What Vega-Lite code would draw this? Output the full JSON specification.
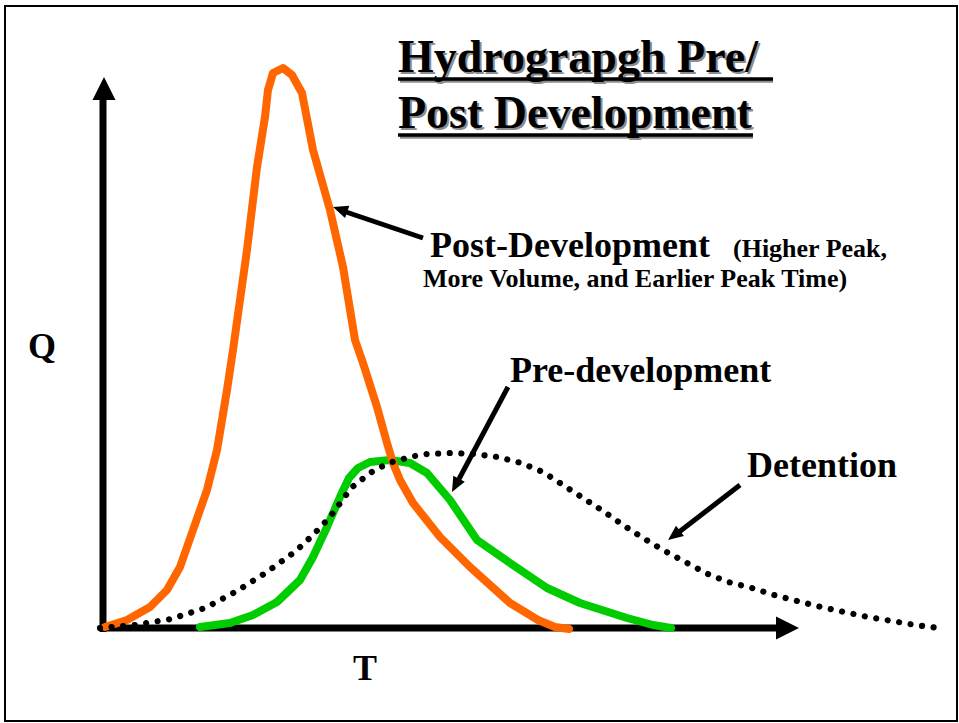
{
  "$schema": "https://vega.github.io/schema/vega-lite/v6.json",
  "width": 959,
  "height": 723,
  "autosize": {"type": "fit", "contains": "padding"},
  "padding": {"left": 5, "top": 6, "right": 2, "bottom": 2},
  "background": "white",
  "config": {"view": {"stroke": "black", "strokeWidth": 2}},
  "datasets": {
    "post": [
      {"T": 0.2, "Q": 0.1}, {"T": 2.4, "Q": 0.8}, {"T": 4.7, "Q": 2.1}, {"T": 6.4, "Q": 3.8},
      {"T": 7.7, "Q": 6.1}, {"T": 9.0, "Q": 9.8}, {"T": 10.4, "Q": 13.8}, {"T": 11.4, "Q": 17.8},
      {"T": 12.4, "Q": 23.8}, {"T": 13.0, "Q": 27.8}, {"T": 14.4, "Q": 37.8}, {"T": 15.4, "Q": 46.1},
      {"T": 16.2, "Q": 51.1}, {"T": 16.5, "Q": 53.8}, {"T": 17.0, "Q": 55.5}, {"T": 18.0, "Q": 56.0},
      {"T": 18.9, "Q": 55.3}, {"T": 19.9, "Q": 53.5}, {"T": 21.0, "Q": 47.8}, {"T": 22.7, "Q": 41.8},
      {"T": 24.0, "Q": 36.1}, {"T": 25.2, "Q": 28.8}, {"T": 26.0, "Q": 26.5}, {"T": 27.4, "Q": 22.1},
      {"T": 28.4, "Q": 18.5}, {"T": 29.0, "Q": 16.5}, {"T": 29.7, "Q": 14.8}, {"T": 31.0, "Q": 12.5},
      {"T": 33.7, "Q": 9.1}, {"T": 36.7, "Q": 6.1}, {"T": 40.7, "Q": 2.5}, {"T": 43.5, "Q": 0.8},
      {"T": 45.2, "Q": 0.1}, {"T": 46.6, "Q": -0.1}
    ],
    "pre": [
      {"T": 9.7, "Q": 0.1}, {"T": 12.7, "Q": 0.5}, {"T": 15.0, "Q": 1.3}, {"T": 17.4, "Q": 2.6},
      {"T": 19.7, "Q": 4.8}, {"T": 21.0, "Q": 7.1}, {"T": 22.4, "Q": 10.1}, {"T": 23.7, "Q": 13.1},
      {"T": 24.6, "Q": 15.0}, {"T": 25.5, "Q": 16.0}, {"T": 26.7, "Q": 16.6}, {"T": 28.7, "Q": 16.8},
      {"T": 30.7, "Q": 16.5}, {"T": 32.4, "Q": 15.5}, {"T": 34.7, "Q": 12.8}, {"T": 37.4, "Q": 8.8},
      {"T": 40.7, "Q": 6.5}, {"T": 44.4, "Q": 4.0}, {"T": 47.7, "Q": 2.5}, {"T": 52.4, "Q": 1.0},
      {"T": 55.0, "Q": 0.3}, {"T": 56.8, "Q": 0.0}
    ],
    "detention": [
      {"T": -0.3, "Q": 0.0}, {"T": 3.2, "Q": 0.3}, {"T": 6.8, "Q": 0.9}, {"T": 10.2, "Q": 2.0},
      {"T": 13.4, "Q": 3.7}, {"T": 16.4, "Q": 5.6}, {"T": 19.3, "Q": 7.7}, {"T": 21.1, "Q": 9.4},
      {"T": 22.7, "Q": 11.1}, {"T": 24.1, "Q": 13.0}, {"T": 24.8, "Q": 14.0}, {"T": 25.7, "Q": 14.7},
      {"T": 26.7, "Q": 15.5}, {"T": 27.8, "Q": 16.1}, {"T": 28.9, "Q": 16.6}, {"T": 30.0, "Q": 16.9},
      {"T": 31.2, "Q": 17.2}, {"T": 32.4, "Q": 17.4}, {"T": 34.7, "Q": 17.5}, {"T": 37.1, "Q": 17.4},
      {"T": 39.5, "Q": 17.1}, {"T": 41.8, "Q": 16.5}, {"T": 44.0, "Q": 15.6}, {"T": 46.0, "Q": 14.3},
      {"T": 48.0, "Q": 13.0}, {"T": 50.0, "Q": 11.7}, {"T": 52.0, "Q": 10.3}, {"T": 54.0, "Q": 9.0},
      {"T": 56.0, "Q": 7.8}, {"T": 58.2, "Q": 6.6}, {"T": 60.5, "Q": 5.4}, {"T": 62.5, "Q": 4.6},
      {"T": 64.9, "Q": 4.0}, {"T": 67.1, "Q": 3.3}, {"T": 69.4, "Q": 2.7}, {"T": 71.8, "Q": 2.1},
      {"T": 74.1, "Q": 1.6}, {"T": 76.5, "Q": 1.1}, {"T": 78.9, "Q": 0.7}, {"T": 81.2, "Q": 0.3},
      {"T": 83.6, "Q": 0.0}
    ],
    "axisShafts": [
      {"T": 0.0, "Q": -0.4, "T2": 0.0, "Q2": 52.8},
      {"T": -0.3, "Q": 0.0, "T2": 67.5, "Q2": 0.0}
    ],
    "pointers": [
      {"T": 32.0, "Q": 39.0, "T2": 24.3, "Q2": 41.6},
      {"T": 40.5, "Q": 24.1, "T2": 35.6, "Q2": 14.9},
      {"T": 63.7, "Q": 14.3, "T2": 57.6, "Q2": 9.6}
    ],
    "underlines": [
      {"T": 29.5, "T2": 67.0, "Q": 54.9},
      {"T": 29.5, "T2": 65.0, "Q": 49.3}
    ],
    "title": [
      {"T": 29.5, "Q": 55.6, "label": "Hydrograpgh Pre/"},
      {"T": 29.5, "Q": 50.0, "label": "Post Development"}
    ],
    "bigLabels": [
      {"T": 32.7, "Q": 37.1, "label": "Post-Development"},
      {"T": 40.7, "Q": 24.6, "label": "Pre-development"},
      {"T": 64.4, "Q": 15.1, "label": "Detention"}
    ],
    "smallLabels": [
      {"T": 63.0, "Q": 37.1, "label": "(Higher Peak,"},
      {"T": 32.0, "Q": 34.1, "label": "More Volume, and Earlier Peak Time)"}
    ],
    "axisLabels": [
      {"T": -6.1, "Q": 27.0, "label": "Q"},
      {"T": 26.2, "Q": -5.2, "label": "T"}
    ]
  },
  "layer": [
    {
      "data": {"name": "axisShafts"},
      "mark": {"type": "rule", "color": "black", "strokeWidth": 7, "strokeCap": "butt"},
      "encoding": {
        "x": {"field": "T", "type": "quantitative", "scale": {"domain": [-9.8, 85.4], "nice": false, "zero": false}, "axis": null},
        "y": {"field": "Q", "type": "quantitative", "scale": {"domain": [-9.3, 62.2], "nice": false, "zero": false}, "axis": null},
        "x2": {"field": "T2"},
        "y2": {"field": "Q2"}
      }
    },
    {
      "data": {"values": [{"T": 0.1, "Q": 53.95}]},
      "mark": {"type": "point", "shape": "M0,-1L-1,1L1,1Z", "size": 529, "filled": true, "color": "black", "opacity": 1, "strokeWidth": 0, "angle": 0},
      "encoding": {
        "x": {"field": "T", "type": "quantitative"},
        "y": {"field": "Q", "type": "quantitative"}
      }
    },
    {
      "data": {"values": [{"T": 68.45, "Q": 0.0}]},
      "mark": {"type": "point", "shape": "M0,-1L-1,1L1,1Z", "size": 529, "filled": true, "color": "black", "opacity": 1, "strokeWidth": 0, "angle": 90},
      "encoding": {
        "x": {"field": "T", "type": "quantitative"},
        "y": {"field": "Q", "type": "quantitative"}
      }
    },
    {
      "data": {"name": "pre"},
      "mark": {"type": "line", "color": "#00CC00", "strokeWidth": 8, "strokeCap": "round", "strokeJoin": "round"},
      "encoding": {
        "x": {"field": "T", "type": "quantitative"},
        "y": {"field": "Q", "type": "quantitative"}
      }
    },
    {
      "data": {"name": "post"},
      "mark": {"type": "line", "color": "#FF6600", "strokeWidth": 8, "strokeCap": "round", "strokeJoin": "round"},
      "encoding": {
        "x": {"field": "T", "type": "quantitative"},
        "y": {"field": "Q", "type": "quantitative"}
      }
    },
    {
      "data": {"name": "detention"},
      "mark": {"type": "line", "color": "black", "strokeWidth": 6.2, "strokeCap": "round", "strokeDash": [0.01, 11.6]},
      "encoding": {
        "x": {"field": "T", "type": "quantitative"},
        "y": {"field": "Q", "type": "quantitative"}
      }
    },
    {
      "data": {"name": "pointers"},
      "mark": {"type": "rule", "color": "black", "strokeWidth": 5, "strokeCap": "butt"},
      "encoding": {
        "x": {"field": "T", "type": "quantitative"},
        "y": {"field": "Q", "type": "quantitative"},
        "x2": {"field": "T2"},
        "y2": {"field": "Q2"}
      }
    },
    {
      "data": {"values": [{"T": 23.71, "Q": 41.86}]},
      "mark": {"type": "point", "shape": "M0,-1L-0.87,1L0.87,1Z", "size": 225, "filled": true, "color": "black", "opacity": 1, "strokeWidth": 0, "angle": 289},
      "encoding": {
        "x": {"field": "T", "type": "quantitative"},
        "y": {"field": "Q", "type": "quantitative"}
      }
    },
    {
      "data": {"values": [{"T": 35.25, "Q": 14.26}]},
      "mark": {"type": "point", "shape": "M0,-1L-0.87,1L0.87,1Z", "size": 225, "filled": true, "color": "black", "opacity": 1, "strokeWidth": 0, "angle": 208},
      "encoding": {
        "x": {"field": "T", "type": "quantitative"},
        "y": {"field": "Q", "type": "quantitative"}
      }
    },
    {
      "data": {"values": [{"T": 57.1, "Q": 9.26}]},
      "mark": {"type": "point", "shape": "M0,-1L-0.87,1L0.87,1Z", "size": 225, "filled": true, "color": "black", "opacity": 1, "strokeWidth": 0, "angle": 232.6},
      "encoding": {
        "x": {"field": "T", "type": "quantitative"},
        "y": {"field": "Q", "type": "quantitative"}
      }
    },
    {
      "data": {"name": "underlines"},
      "mark": {"type": "rule", "color": "#8c8c8c", "strokeWidth": 3.5, "xOffset": 2, "yOffset": 2},
      "encoding": {
        "x": {"field": "T", "type": "quantitative"},
        "x2": {"field": "T2"},
        "y": {"field": "Q", "type": "quantitative"}
      }
    },
    {
      "data": {"name": "title"},
      "mark": {"type": "text", "font": "Liberation Serif", "fontWeight": "bold", "fontSize": 46, "align": "left", "baseline": "alphabetic", "color": "#8c8c8c", "dx": 2, "dy": 2},
      "encoding": {
        "x": {"field": "T", "type": "quantitative"},
        "y": {"field": "Q", "type": "quantitative"},
        "text": {"field": "label"}
      }
    },
    {
      "data": {"name": "underlines"},
      "mark": {"type": "rule", "color": "black", "strokeWidth": 3.5},
      "encoding": {
        "x": {"field": "T", "type": "quantitative"},
        "x2": {"field": "T2"},
        "y": {"field": "Q", "type": "quantitative"}
      }
    },
    {
      "data": {"name": "title"},
      "mark": {"type": "text", "font": "Liberation Serif", "fontWeight": "bold", "fontSize": 46, "align": "left", "baseline": "alphabetic", "color": "black"},
      "encoding": {
        "x": {"field": "T", "type": "quantitative"},
        "y": {"field": "Q", "type": "quantitative"},
        "text": {"field": "label"}
      }
    },
    {
      "data": {"name": "bigLabels"},
      "mark": {"type": "text", "font": "Liberation Serif", "fontWeight": "bold", "fontSize": 36, "align": "left", "baseline": "alphabetic", "color": "black"},
      "encoding": {
        "x": {"field": "T", "type": "quantitative"},
        "y": {"field": "Q", "type": "quantitative"},
        "text": {"field": "label"}
      }
    },
    {
      "data": {"name": "smallLabels"},
      "mark": {"type": "text", "font": "Liberation Serif", "fontWeight": "bold", "fontSize": 26, "align": "left", "baseline": "alphabetic", "color": "black"},
      "encoding": {
        "x": {"field": "T", "type": "quantitative"},
        "y": {"field": "Q", "type": "quantitative"},
        "text": {"field": "label"}
      }
    },
    {
      "data": {"name": "axisLabels"},
      "mark": {"type": "text", "font": "Liberation Serif", "fontWeight": "bold", "fontSize": 36, "align": "center", "baseline": "alphabetic", "color": "black"},
      "encoding": {
        "x": {"field": "T", "type": "quantitative"},
        "y": {"field": "Q", "type": "quantitative"},
        "text": {"field": "label"}
      }
    }
  ]
}
